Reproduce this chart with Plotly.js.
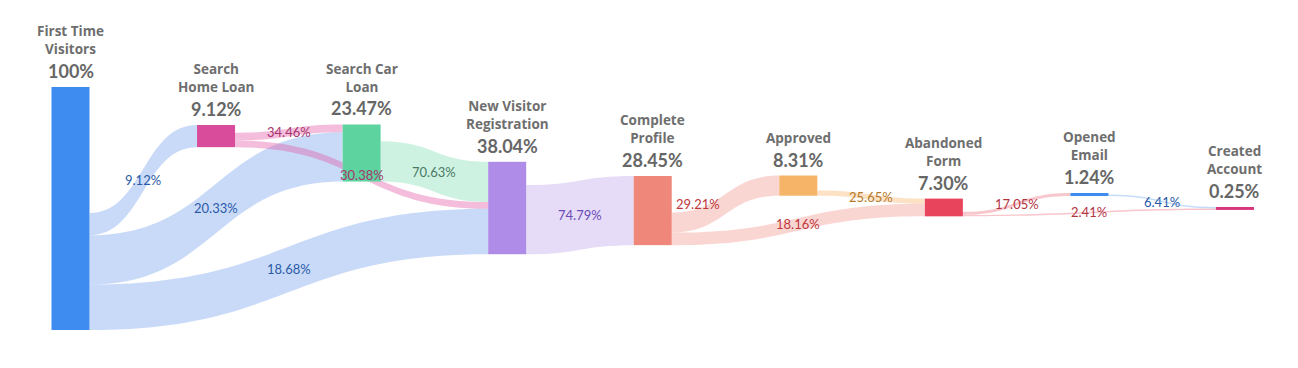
<!DOCTYPE html>
<html><head><meta charset="utf-8">
<script src="https://cdn.plot.ly/plotly-3.0.1.min.js"></script>
<style>html,body{margin:0;padding:0;background:#fff}#chart{width:1298px;height:368px}</style>
</head><body><div id="chart"></div>
<script>
// ---- data ----
const nodeNames = ['First Time<br>Visitors', 'Search<br>Home Loan', 'Search Car<br>Loan', 'New Visitor<br>Registration', 'Complete<br>Profile', 'Approved', 'Abandoned<br>Form', 'Opened<br>Email', 'Created<br>Account'];
const nodePct = [100, 9.12, 23.47, 38.04, 28.45, 8.31, 7.30, 1.24, 0.25];
const linkSource = [0, 0, 0, 1, 1, 2, 3, 4, 4, 5, 6, 6, 7];
const linkTarget = [1, 2, 3, 2, 3, 3, 4, 5, 6, 6, 7, 8, 8];
const linkPct = [9.12, 20.33, 18.68, 34.46, 30.38, 70.63, 74.79, 29.21, 18.16, 25.65, 17.05, 2.41, 6.41];

// ---- styles ----
const nodeColors = ['#3f8cf0', '#d94b9b', '#5dd3a0', '#ae8ce8', '#f0877b', '#f5b468', '#e8445b', '#3f8cf0', '#d8357e'];
const linkFill = ['rgba(100,150,235,0.35)', 'rgba(225,90,165,0.4)', 'rgba(93,211,158,0.3)', 'rgba(173,139,230,0.3)', 'rgba(240,120,110,0.3)', 'rgba(245,170,90,0.35)', 'rgba(232,67,90,0.3)', 'rgba(61,139,239,0.3)', 'rgba(0,0,0,0)'];
const linkTextColor = ['#2a5aa8', '#a8356f', '#4a7a62', '#6a4bb8', '#c0383a', '#b57a2a', '#b3333f', '#2a5aa8', '#555'];
const CLEAR = 'rgba(0,0,0,0)';

// ---- layout geometry (pixels) ----
const W = 1298, H = 368;
const s = 2.43;           // px per percentage point
const T = 15;             // top of the sankey domain
const colX = i => 70.5 + 145.56 * i;
const nodeColumn = [0, 1, 2, 3, 4, 5, 6, 7, 8];
const nodeTopPx = [87, 125, 124.5, 161.8, 176, 175.5, 198.6, 193, 207];
const minLinkWidth = 0.6;
const labelXFrac = linkPct.map(() => 0.5);
labelXFrac[7] = 0.24;
const nameSize = 13.5, pctSize = 18;

// link values (share of all visitors)
const linkValue = linkPct.map((p, i) => nodePct[linkSource[i]] * p / 100);
const linkDisplay = linkValue.map(v => Math.max(v, minLinkWidth));

const nReal = nodeNames.length;
// first node: its flows are split over stacked helper sources so the flows keep their order at every target
const ftvLinks = linkSource.map((x, i) => i).filter(i => linkSource[i] === 0);
const ftvOutSum = ftvLinks.reduce((a, i) => a + linkDisplay[i], 0);
const ftvDrop = nodePct[0] - ftvOutSum;
let nextId = nReal;
const splitNode = {};
ftvLinks.slice(1).forEach(i => { splitNode[i] = nextId++; });
const topSink = nextId++, bottomSink = nextId++;
const nAll = nextId;

const S = [], Tg = [], V = [], C = [], realIdx = [];
linkSource.forEach((src, i) => {
  S.push(splitNode[i] !== undefined ? splitNode[i] : src);
  Tg.push(linkTarget[i]); V.push(linkDisplay[i]); C.push(linkFill[src]); realIdx.push(i);
});
// hidden drop-off flows (keep node heights and put visible out-flows at the node bottom)
S.push(0); Tg.push(topSink); V.push(ftvDrop); C.push(CLEAR); realIdx.push(-1);
S.push(0); Tg.push(bottomSink); V.push(ftvOutSum - linkDisplay[ftvLinks[0]]); C.push(CLEAR); realIdx.push(-1);
for (let n = 1; n < nReal; n++) {
  let inn = 0, out = 0;
  linkSource.forEach((src, i) => { if (src === n) out += linkDisplay[i]; if (linkTarget[i] === n) inn += linkDisplay[i]; });
  if (out > 0 && inn - out > 1e-6) { S.push(n); Tg.push(topSink); V.push(inn - out); C.push(CLEAR); realIdx.push(-1); }
}

// node sizes
const inS = new Array(nAll).fill(0), outS = new Array(nAll).fill(0);
S.forEach((a, i) => { outS[a] += V[i]; inS[Tg[i]] += V[i]; });
const val = inS.map((v, i) => Math.max(v, outS[i]));

// node tops (px)
const topPx = new Array(nAll);
nodeTopPx.forEach((t, i) => { topPx[i] = t; });
let acc = nodeTopPx[0] + (ftvDrop + linkDisplay[ftvLinks[0]]) * s;
ftvLinks.slice(1).forEach(i => { topPx[splitNode[i]] = acc; acc += linkDisplay[i] * s; });
topPx[topSink] = -250; topPx[bottomSink] = 300;
const centerPx = topPx.map((t, i) => t + val[i] * s / 2);

// column sums as the layout computes them -> domain height giving s px per point
const adj = Array.from({length: nAll}, () => []);
S.forEach((a, i) => adj[a].push(Tg[i]));
const depth = new Array(nAll).fill(0);
let cur = [...Array(nAll).keys()], nCols = 0;
while (cur.length) {
  const next = [];
  cur.forEach(n => { depth[n] = nCols; adj[n].forEach(t => { if (!next.includes(t)) next.push(t); }); });
  cur = next; nCols++;
}
const colSum = {};
for (let n = 0; n < nAll; n++) {
  const c = adj[n].length ? depth[n] : nCols - 1;
  colSum[c] = (colSum[c] || 0) + val[n];
}
const maxSum = Math.max(...Object.values(colSum));
const Hd = s * maxSum;

const xPx = new Array(nAll);
nodeColumn.forEach((c, i) => { xPx[i] = colX(c); });
ftvLinks.slice(1).forEach(i => { xPx[splitNode[i]] = colX(0); });
xPx[topSink] = colX(1); xPx[bottomSink] = colX(1);

const nx = xPx.map(x => x / W);
const ny = centerPx.map(c => (c - T) / Hd);
const ncol = nodeColors.concat(new Array(nAll - nReal).fill(CLEAR));

// link stacking (px) to place the flow labels
const ySrc = new Array(S.length), yTgt = new Array(S.length);
for (let n = 0; n < nAll; n++) {
  const outs = S.map((a, i) => i).filter(i => S[i] === n).sort((a, b) => (topPx[Tg[a]] - topPx[Tg[b]]) || a - b);
  let y = topPx[n];
  outs.forEach(i => { ySrc[i] = y + V[i] * s / 2; y += V[i] * s; });
  const ins = S.map((a, i) => i).filter(i => Tg[i] === n).sort((a, b) => (topPx[S[a]] - topPx[S[b]]) || a - b);
  y = topPx[n];
  ins.forEach(i => { yTgt[i] = y + V[i] * s / 2; y += V[i] * s; });
}

const annotations = [];
const thick = 38;
for (let i = 0; i < nReal; i++) {
  const yTop = (H - topPx[i]) / H;
  const nLines = nodeNames[i].split('<br>').length;
  annotations.push({
    xref: 'paper', yref: 'paper', x: nx[i], y: yTop, xanchor: 'center', yanchor: 'middle', align: 'center',
    yshift: 38 + (nLines - 1) * 1.3 * nameSize / 2, showarrow: false, text: nodeNames[i],
    font: {family: 'Open Sans', size: nameSize, color: '#6e6e6e', weight: 700}
  });
  annotations.push({
    xref: 'paper', yref: 'paper', x: nx[i], y: yTop, xanchor: 'center', yanchor: 'middle',
    yshift: 16, showarrow: false, text: nodePct[i].toFixed(nodePct[i] === 100 ? 0 : 2) + '%',
    font: {family: 'Lato', size: pctSize, color: '#666666', weight: 700}
  });
}
S.forEach((a, k) => {
  const i = realIdx[k];
  if (i < 0) return;
  const x0 = xPx[a] + thick / 2, x1 = xPx[Tg[k]] - thick / 2;
  const xm = x0 + (x1 - x0) * labelXFrac[i];
  const ym = (ySrc[k] + yTgt[k]) / 2;
  annotations.push({
    xref: 'paper', yref: 'paper', x: xm / W, y: (H - ym) / H, xanchor: 'center', yanchor: 'middle', showarrow: false,
    text: linkPct[i].toFixed(2) + '%', font: {family: 'Lato', size: 13, color: linkTextColor[linkSource[i]]}
  });
});

const trace = {
  type: 'sankey', orientation: 'h', arrangement: 'fixed', hoverinfo: 'none',
  domain: {x: [0, 1], y: [(H - T - Hd) / H, (H - T) / H]},
  node: {label: new Array(nAll).fill(''), x: nx, y: ny, color: ncol, thickness: thick, pad: 0, line: {width: 0}, hoverinfo: 'none'},
  link: {source: S, target: Tg, value: V, color: C, hoverinfo: 'none', line: {width: 0}}
};

Plotly.newPlot('chart', [trace], {
  width: W, height: H, margin: {l: 0, r: 0, t: 0, b: 0},
  paper_bgcolor: '#ffffff', plot_bgcolor: '#ffffff',
  font: {family: 'Lato'}, annotations: annotations
}, {displayModeBar: false, staticPlot: true});
</script>
</body></html>
